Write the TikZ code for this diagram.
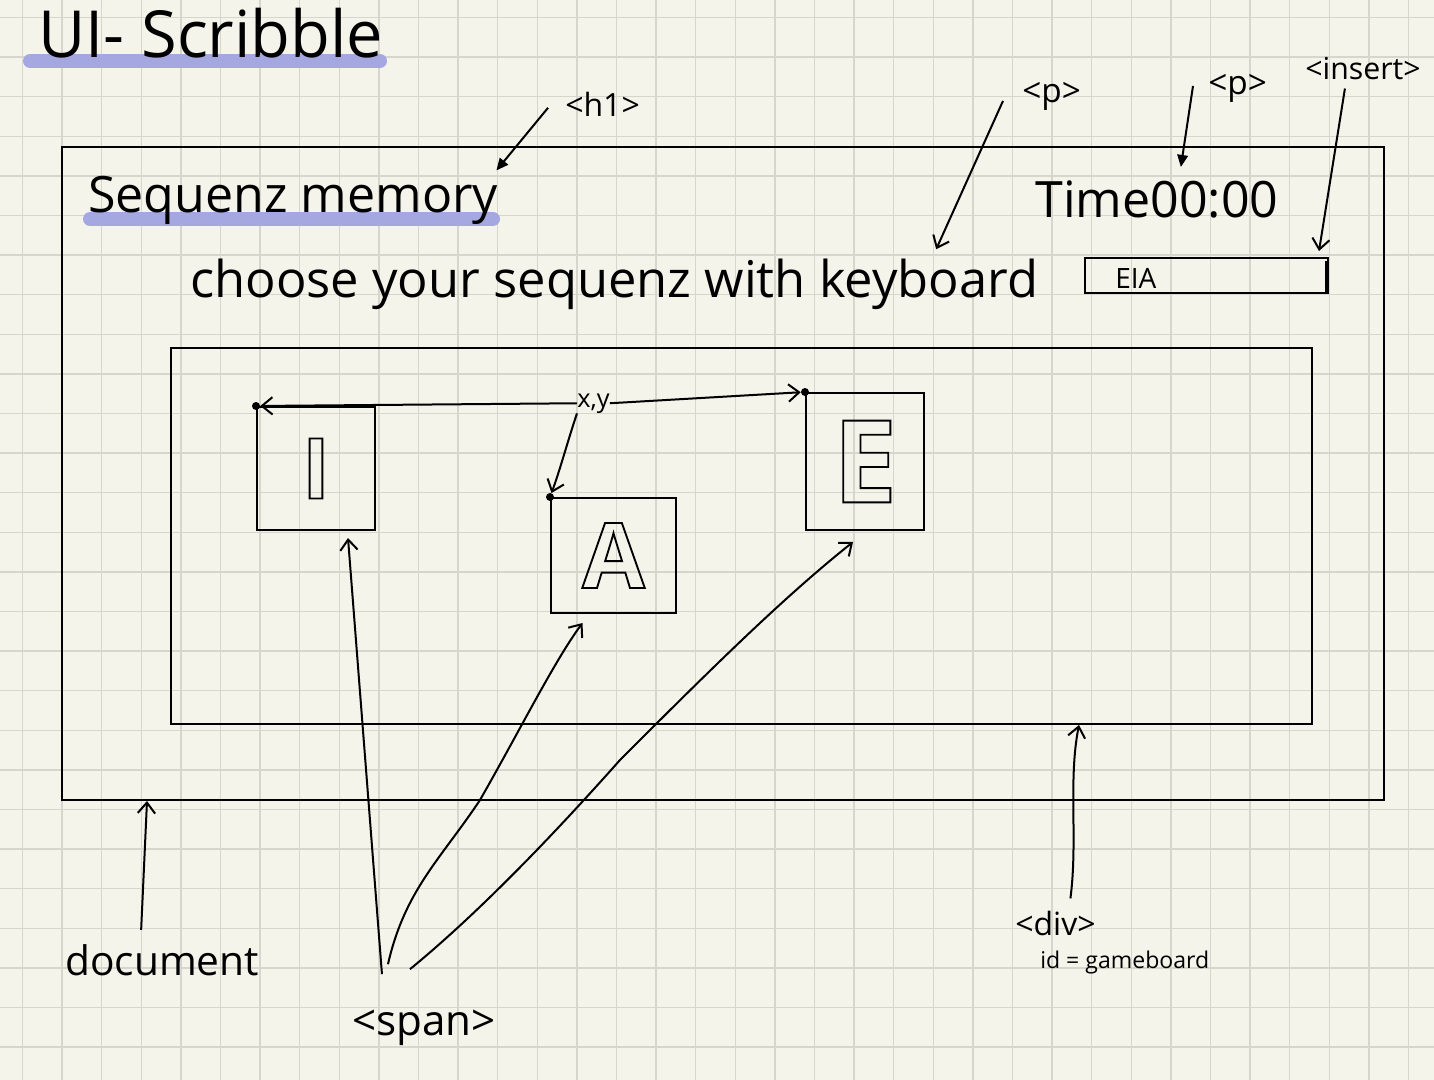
\documentclass[tikz,border=0pt]{standalone}
\usepackage{fontspec}
\setmainfont{Open Sans}
\usepackage{xcolor}
\usetikzlibrary{arrows.meta,calc}

\definecolor{paper}{RGB}{244,244,234}
\definecolor{gridgray}{RGB}{214,214,204}
\definecolor{marker}{RGB}{165,168,224}
% hollow letters: stroke the glyph outline only
\newcommand{\hollow}[1]{\special{pdf:literal direct 1 Tr 1.4 w}#1\special{pdf:literal direct 0 Tr}}

\begin{document}
\begin{tikzpicture}[x=0.75pt,y=0.75pt,yscale=-1,xscale=1,
  gridline/.style={color=gridgray, line width=1pt},
  pen/.style={color=black, line width=1.5pt},
  hilite/.style={color=marker, line width=10.5pt, line cap=round},
  txt/.style={anchor=base west, inner sep=0pt},
  tile/.style={pen, draw, inner sep=0pt, font=\bfseries},
  box/.style={pen, draw, inner sep=0pt},
  arr/.style={pen, -{Straight Barb[length=8pt,width=13pt]}},
  fatarr/.style={pen, -{Triangle[length=9pt,width=8pt]}},
  dot/.style={circle, fill=black, inner sep=0pt, minimum size=6pt}
]
%uncomment if require: \path (0,1080); %set diagram left start at 0, and has height of 1080
\useasboundingbox (0,0) rectangle (1434,1080);

%Shape: paper with grid
\fill[paper] (0,0) rectangle (1434,1080);
\foreach \i in {0,...,35} \draw[gridline] ({22.5+39.6*\i},0) -- ({22.5+39.6*\i},1080);
\foreach \j in {0,...,26} \draw[gridline] (0,{17.5+39.6*\j}) -- (1434,{17.5+39.6*\j});

%Shape: marker strokes
\draw[hilite] (30,61) -- (380,61);
\draw[hilite] (90,219) -- (493,219);

% Text Node
\node[txt, font=\fontsize{48.7}{50}\selectfont] (scribble) at (38,58) {UI- Scribble};

%Shape: Rectangle
\node[box, minimum width=991.5pt, minimum height=489.75pt] (docbox) at (723,473.5) {};
%Shape: Rectangle
\node[box, minimum width=855.75pt, minimum height=282pt] (gameboard) at (741.5,536) {};

% Text Node
\node[txt, font=\fontsize{37.6}{40}\selectfont] (heading) at (88,213) {Sequenz memory};
% Text Node
\node[txt, font=\fontsize{38}{40}\selectfont] (prompt) at (190,298) {choose your sequenz with keyboard};
% Text Node
\node[txt, font=\fontsize{37.6}{40}\selectfont] (timer) at (1035,218) {Time00:00};

%Shape: Rectangle
\node[box, minimum width=182.25pt, minimum height=26.25pt] (inbox) at (1206.5,275.5) {};
\draw[line width=2.5pt] ($(inbox.north east)+(-2,4)$) -- ($(inbox.south east)+(-2,-2)$);
% Text Node
\node[txt, font=\fontsize{21}{22}\selectfont] (eia) at (1115,289) {EIA};

% Text Node
\node[txt, font=\fontsize{24}{26}\selectfont] (h1lbl) at (565,117) {<h1>};
% Text Node
\node[txt, font=\fontsize{25}{26}\selectfont] (plbl) at (1022,103) {<p>};
% Text Node
\node[txt, font=\fontsize{25}{26}\selectfont] (ptimelbl) at (1208,95) {<p>};
% Text Node
\node[txt, font=\fontsize{22.7}{24}\selectfont] (inslbl) at (1305,80) {<insert>};

%Shape: tiles
\node[tile, minimum width=88.5pt, minimum height=92.25pt, font=\fontsize{63}{63}\selectfont\bfseries] (tileI) at (316,468.5) {\hollow{I}};
\node[tile, minimum width=93.75pt, minimum height=86.25pt, font=\fontsize{68}{68}\selectfont\bfseries] (tileA) at (613.5,555.5) {\hollow{A}};
\node[tile, minimum width=88.5pt, minimum height=102.75pt, font=\fontsize{86}{86}\selectfont\bfseries] (tileE) at (865,461.5) {\hollow{E}};
\node[dot] (dotI) at (tileI.north west) {};
\node[dot] (dotA) at (tileA.north west) {};
\node[dot] (dotE) at (tileE.north west) {};

% Text Node
\node[txt, font=\fontsize{19}{20}\selectfont] (xy) at (577,407) {x,y};

% Text Node
\node[txt, font=\fontsize{30.5}{32}\selectfont] (doclbl) at (65,975) {document};
% Text Node
\node[txt, font=\fontsize{31.6}{33}\selectfont] (spanlbl) at (352,1035) {<span>};
% Text Node
\node[txt, font=\fontsize{24}{26}\selectfont] (divlbl) at (1015,935) {<div>};
% Text Node
\node[txt, font=\fontsize{17.3}{19}\selectfont] (idlbl) at (1040,968) {id = gameboard};

%Straight Lines: pointers to the page
\draw[fatarr] ($(h1lbl.west)+(-17,3)$) -- ($(heading.north east)+(-2,-6)$);
\draw[arr] ($(plbl.west)+(-19,4)$) -- ($(prompt.north)+(322,-10)$);
\draw[fatarr] ($(ptimelbl.west)+(-15,-3)$) -- ($(timer.north)+(24,-14)$);
\draw[arr] ($(inslbl.south)+(-18,8)$) -- ($(inbox.north east)+(-10,-6)$);
\draw[arr] (xy.west) -- (dotI);
\draw[arr] (xy.south west) .. controls (568,440) and (560,470) .. (dotA);
\draw[arr] (xy.east) -- (dotE);

%Curve Lines: spans
\draw[arr] ($(spanlbl.north)+(-42,-35)$) -- ($(tileI.south)+(32,7)$);
\draw[arr] ($(spanlbl.north)+(-36,-45)$) .. controls (405,890) and (440,860) .. (480,800) .. controls (520,730) and (555,660) .. ($(tileA.south)+(-31,9)$);
\draw[arr] ($(spanlbl.north)+(-14,-40)$) .. controls (470,920) and (540,850) .. (620,760) .. controls (700,680) and (780,600) .. ($(tileE.south)+(-12,11)$);

%Curve Lines: document and gameboard
\draw[arr] ($(doclbl.north)+(-21,-14)$) -- ($(docbox.south west)+(86,0)$);
\draw[arr] ($(divlbl.north)+(15,-12)$) .. controls (1078,840) and (1068,780) .. ($(gameboard.south west)+(909,0)$);

\end{tikzpicture}
\end{document}
